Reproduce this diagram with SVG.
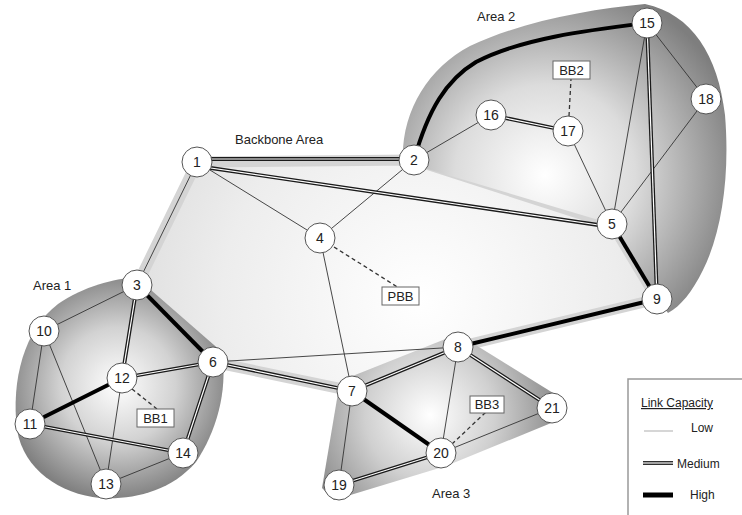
<svg xmlns="http://www.w3.org/2000/svg" xmlns:xlink="http://www.w3.org/1999/xlink" width="742" height="515" viewBox="0 0 742 515">
<style>
text{font-family:"Liberation Sans",Arial,sans-serif;fill:#222}
.nlabel{font-size:14px;text-anchor:middle}
.area{font-size:13px}
.node circle{fill:#fff;stroke:#555;stroke-width:1}
.box rect{fill:#fff;stroke:#666;stroke-width:1}
.box text{font-size:13px;text-anchor:middle}
.low{stroke:#333;stroke-width:0.9;fill:none}
.high{stroke:#000;stroke-width:4;fill:none}
.dash{stroke:#333;stroke-width:1.3;stroke-dasharray:4 3;fill:none}
</style>
<defs>
<radialGradient id="gBack" gradientUnits="userSpaceOnUse" cx="420" cy="300" r="330">
<stop offset="0" stop-color="#ffffff"/>
<stop offset="0.6" stop-color="#ededed"/>
<stop offset="1" stop-color="#dadada"/>
</radialGradient>
<radialGradient id="gA2" gradientUnits="userSpaceOnUse" cx="545" cy="175" r="200">
<stop offset="0" stop-color="#ffffff"/>
<stop offset="0.45" stop-color="#dcdcdc"/>
<stop offset="1" stop-color="#7e7e7e"/>
</radialGradient>
<radialGradient id="gA1" gradientUnits="userSpaceOnUse" cx="118" cy="385" r="115">
<stop offset="0" stop-color="#ffffff"/>
<stop offset="0.5" stop-color="#d2d2d2"/>
<stop offset="1" stop-color="#808080"/>
</radialGradient>
<radialGradient id="gA3" gradientUnits="userSpaceOnUse" cx="430" cy="415" r="130">
<stop offset="0" stop-color="#ffffff"/>
<stop offset="0.5" stop-color="#d0d0d0"/>
<stop offset="1" stop-color="#8a8a8a"/>
</radialGradient>
<g id="medLines">
<line x1="197" y1="159" x2="414" y2="159"/>
<line x1="197" y1="166" x2="612" y2="227"/>
<line x1="137" y1="285" x2="122" y2="378"/>
<line x1="122" y1="378" x2="213" y2="362"/>
<line x1="213" y1="362" x2="183" y2="453"/>
<line x1="30" y1="424" x2="183" y2="453"/>
<line x1="213" y1="362" x2="352" y2="391"/>
<line x1="352" y1="391" x2="458" y2="347"/>
<line x1="458" y1="347" x2="552" y2="408"/>
<line x1="339" y1="485" x2="441" y2="453"/>
<line x1="491" y1="115" x2="568" y2="131"/>
<line x1="647" y1="23" x2="657" y2="299"/>
</g>
</defs>

<g id="areas">
<polygon points="197,162 414,160 612,224 657,299 458,347 352,391 213,362 137,285" fill="url(#gBack)" stroke="#d4d4d4" stroke-width="11" stroke-linejoin="round"/>
<path d="M 404,172 C 397,120 424,70 470,46 C 520,22 590,9 645,4 C 692,14 718,55 725,115 C 730,175 722,232 703,270 C 692,292 681,306 668,313 L 657,299 L 612,224 L 424,168 Z" fill="url(#gA2)"/>
<path d="M 136,277 L 222,352 C 228,392 216,432 196,462 C 170,492 132,500 100,498 C 60,494 24,470 17,430 C 11,380 24,330 58,304 C 84,286 114,279 136,277 Z" fill="url(#gA1)"/>
<path d="M 340,381 L 458,334 L 566,401 L 556,421 L 446,466 L 334,500 L 322,488 Z" fill="url(#gA3)"/>
</g>

<g id="labels-area">
<text class="area" x="33" y="290">Area 1</text>
<text class="area" x="477" y="21">Area 2</text>
<text class="area" x="235" y="144">Backbone Area</text>
<text class="area" x="432" y="498">Area 3</text>
</g>

<g id="connectors">
<g class="low">
<line x1="197" y1="162" x2="137" y2="285"/>
<line x1="197" y1="162" x2="320" y2="238"/>
<line x1="414" y1="160" x2="320" y2="238"/>
<line x1="320" y1="238" x2="352" y2="391"/>
<line x1="414" y1="160" x2="491" y2="115"/>
<line x1="568" y1="131" x2="612" y2="224"/>
<line x1="612" y1="224" x2="647" y2="23"/>
<line x1="612" y1="224" x2="706" y2="99"/>
<line x1="647" y1="23" x2="706" y2="99"/>
<line x1="137" y1="285" x2="44" y2="331"/>
<line x1="44" y1="331" x2="30" y2="424"/>
<line x1="44" y1="331" x2="106" y2="484"/>
<line x1="122" y1="378" x2="106" y2="484"/>
<line x1="106" y1="484" x2="183" y2="453"/>
<line x1="213" y1="362" x2="458" y2="347"/>
<line x1="458" y1="347" x2="441" y2="453"/>
<line x1="441" y1="453" x2="552" y2="408"/>
<line x1="352" y1="391" x2="339" y2="485"/>
</g>
<use xlink:href="#medLines" stroke="#1a1a1a" stroke-width="3.8"/>
<use xlink:href="#medLines" stroke="#ffffff" stroke-width="1.2"/>
<g class="high">
<line x1="137" y1="285" x2="213" y2="362"/>
<line x1="30" y1="424" x2="122" y2="378"/>
<line x1="612" y1="224" x2="657" y2="299"/>
<line x1="657" y1="299" x2="458" y2="347"/>
<line x1="352" y1="391" x2="441" y2="453"/>
<path d="M 414,160 C 428,110 446,80 476,62 C 522,38 590,30 647,23"/>
</g>
<g class="dash">
<line x1="334" y1="247" x2="399" y2="288"/>
<line x1="132" y1="389" x2="157" y2="409"/>
<line x1="569" y1="116" x2="571" y2="79"/>
<line x1="452" y1="444" x2="486" y2="412"/>
</g>
</g>

<g id="n1" class="node"><circle cx="197" cy="162" r="15"/><text class="nlabel" x="197" y="167">1</text></g>
<g id="n2" class="node"><circle cx="414" cy="160" r="15"/><text class="nlabel" x="414" y="165">2</text></g>
<g id="n3" class="node"><circle cx="137" cy="285" r="15"/><text class="nlabel" x="137" y="290">3</text></g>
<g id="n4" class="node"><circle cx="320" cy="238" r="15"/><text class="nlabel" x="320" y="243">4</text></g>
<g id="n5" class="node"><circle cx="612" cy="224" r="15"/><text class="nlabel" x="612" y="229">5</text></g>
<g id="n6" class="node"><circle cx="213" cy="362" r="15"/><text class="nlabel" x="213" y="367">6</text></g>
<g id="n7" class="node"><circle cx="352" cy="391" r="15"/><text class="nlabel" x="352" y="396">7</text></g>
<g id="n8" class="node"><circle cx="458" cy="347" r="15"/><text class="nlabel" x="458" y="352">8</text></g>
<g id="n9" class="node"><circle cx="657" cy="299" r="15"/><text class="nlabel" x="657" y="304">9</text></g>
<g id="n10" class="node"><circle cx="44" cy="331" r="15"/><text class="nlabel" x="44" y="336">10</text></g>
<g id="n11" class="node"><circle cx="30" cy="424" r="15"/><text class="nlabel" x="30" y="429">11</text></g>
<g id="n12" class="node"><circle cx="122" cy="378" r="15"/><text class="nlabel" x="122" y="383">12</text></g>
<g id="n13" class="node"><circle cx="106" cy="484" r="15"/><text class="nlabel" x="106" y="489">13</text></g>
<g id="n14" class="node"><circle cx="183" cy="453" r="15"/><text class="nlabel" x="183" y="458">14</text></g>
<g id="n15" class="node"><circle cx="647" cy="23" r="15"/><text class="nlabel" x="647" y="28">15</text></g>
<g id="n16" class="node"><circle cx="491" cy="115" r="15"/><text class="nlabel" x="491" y="120">16</text></g>
<g id="n17" class="node"><circle cx="568" cy="131" r="15"/><text class="nlabel" x="568" y="136">17</text></g>
<g id="n18" class="node"><circle cx="706" cy="99" r="15"/><text class="nlabel" x="706" y="104">18</text></g>
<g id="n19" class="node"><circle cx="339" cy="485" r="15"/><text class="nlabel" x="339" y="490">19</text></g>
<g id="n20" class="node"><circle cx="441" cy="453" r="15"/><text class="nlabel" x="441" y="458">20</text></g>
<g id="n21" class="node"><circle cx="552" cy="408" r="15"/><text class="nlabel" x="552" y="413">21</text></g>

<g id="PBB" class="box"><rect x="382" y="287" width="37" height="18"/><text x="400.5" y="301">PBB</text></g>
<g id="BB1" class="box"><rect x="137" y="409" width="37" height="18"/><text x="155.5" y="423">BB1</text></g>
<g id="BB2" class="box"><rect x="553" y="61" width="37" height="18"/><text x="571.5" y="75">BB2</text></g>
<g id="BB3" class="box"><rect x="470" y="396" width="34" height="17"/><text x="487" y="409">BB3</text></g>

<g id="legend">
<rect x="628" y="379" width="130" height="150" fill="#fff" stroke="#999" stroke-width="1.5"/>
<text x="641" y="407" font-size="12" text-decoration="underline">Link Capacity</text>
<line x1="644" y1="431" x2="673" y2="431" stroke="#bbb" stroke-width="1.2"/>
<text x="691" y="432" font-size="12">Low</text>
<line x1="643" y1="463" x2="673" y2="463" stroke="#1a1a1a" stroke-width="3.8"/>
<line x1="643" y1="463" x2="673" y2="463" stroke="#fff" stroke-width="1.2"/>
<text x="677" y="468" font-size="12">Medium</text>
<line x1="643" y1="495" x2="673" y2="495" stroke="#000" stroke-width="5"/>
<text x="690" y="499" font-size="12">High</text>
</g>
</svg>
